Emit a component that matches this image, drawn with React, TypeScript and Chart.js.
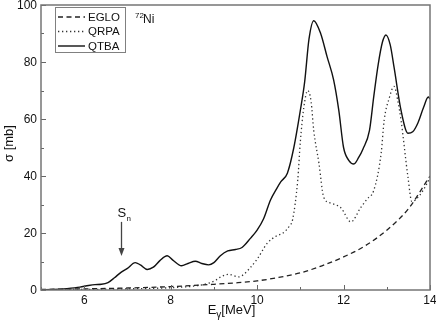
import React, { useEffect, useRef } from "react";
import { Chart, registerables } from "chart.js";
Chart.register(...registerables);

// ---- data ----
const egloE = [5.0, 6.0, 7.0, 8.0, 9.0, 9.5, 10.0, 10.5, 11.0, 11.5, 12.0, 12.5, 13.0, 13.5, 14.0];
const egloS = [0.2, 0.4, 0.7, 1.2, 2.0, 2.5, 3.2, 4.4, 6.0, 8.5, 11.6, 15.5, 21.0, 28.5, 40.0];

const qrpaE = [5.0, 6.0, 7.0, 8.0, 8.6, 8.9, 9.05, 9.15, 9.34, 9.57, 9.7, 9.85, 10.0, 10.24, 10.45, 10.6, 10.75, 10.82, 10.94, 11.0, 11.08, 11.17, 11.25, 11.31, 11.43, 11.54, 11.7, 11.94, 12.17, 12.4, 12.55, 12.7, 12.87, 12.94, 13.05, 13.17, 13.26, 13.33, 13.49, 13.58, 13.75, 13.9, 14.0];
const qrpaS = [0.1, 0.2, 0.4, 0.8, 1.5, 2.5, 3.5, 4.5, 5.5, 4.6, 5.6, 8.0, 10.8, 16.5, 19.0, 20.0, 22.5, 24.6, 38.6, 52.0, 64.0, 70.0, 66.0, 56.0, 44.5, 32.6, 30.5, 28.8, 23.9, 29.0, 32.0, 35.0, 48.0, 59.6, 67.0, 71.4, 66.0, 59.6, 39.6, 31.0, 33.0, 36.5, 39.5];

const qtbaE = [5.0, 5.3, 5.6, 5.9, 6.1, 6.25, 6.4, 6.55, 6.7, 6.85, 7.0, 7.18, 7.3, 7.46, 7.6, 7.75, 7.92, 8.05, 8.25, 8.4, 8.57, 8.72, 8.88, 9.0, 9.15, 9.32, 9.5, 9.65, 9.85, 10.0, 10.15, 10.31, 10.45, 10.55, 10.7, 10.85, 11.0, 11.1, 11.2, 11.31, 11.47, 11.62, 11.77, 11.89, 12.0, 12.12, 12.24, 12.35, 12.45, 12.6, 12.7, 12.8, 12.9, 12.98, 13.08, 13.17, 13.33, 13.49, 13.6, 13.72, 13.85, 13.96, 14.0];
const qtbaS = [0.1, 0.2, 0.5, 1.0, 1.6, 1.9, 2.0, 2.6, 4.3, 6.2, 7.6, 9.6, 8.8, 7.2, 8.0, 10.3, 12.0, 10.5, 8.5, 9.3, 10.1, 9.3, 8.8, 9.6, 12.0, 13.7, 14.2, 14.9, 18.2, 21.0, 25.0, 31.6, 35.5, 38.0, 41.0, 50.0, 63.0, 73.0, 88.0, 94.5, 90.0, 81.8, 73.7, 63.0, 50.0, 45.5, 44.2, 46.5, 49.5, 56.0, 68.0, 79.0, 87.0, 89.5, 86.0, 78.0, 63.0, 55.0, 55.5, 58.6, 64.0, 67.7, 67.0];

const seriesNames = ["EGLO", "QRPA", "QTBA"];
const xMajorTicks = [6, 8, 10, 12, 14];
const xMinorTicks = [5, 7, 9, 11, 13];
const yMajorTicks = [0, 20, 40, 60, 80, 100];
const yMinorTicks = [10, 30, 50, 70, 90];
const snEnergy = 6.86;
const snArrowTop = 23.9;
const snArrowTip = 11.9;

const FONT = '"Liberation Sans", Arial, Helvetica, sans-serif';
const dashes: number[][] = [[5, 3.5], [1.3, 2.7], []];
const colors = ["#222", "#333", "#111"];
const widths = [1.3, 1.3, 1.4];

const pts = (xs: number[], ys: number[]) => xs.map((x, i) => ({ x, y: ys[i] }));

const decorPlugin = {
  id: "decor",
  afterDraw(chart: any) {
    const ctx = chart.ctx as CanvasRenderingContext2D;
    const { left, right, top, bottom } = chart.chartArea;
    const xs = chart.scales.x;
    const ys = chart.scales.y;
    ctx.save();
    // ticks (inward)
    ctx.strokeStyle = "#666";
    ctx.lineWidth = 1;
    ctx.setLineDash([]);
    const tick = (x1: number, y1: number, x2: number, y2: number) => {
      ctx.beginPath();
      ctx.moveTo(x1, y1);
      ctx.lineTo(x2, y2);
      ctx.stroke();
    };
    xMajorTicks.forEach((v) => { const p = Math.round(xs.getPixelForValue(v)) + 0.5; tick(p, bottom, p, bottom - 5); });
    xMinorTicks.forEach((v) => { const p = Math.round(xs.getPixelForValue(v)) + 0.5; tick(p, bottom, p, bottom - 3); });
    yMajorTicks.forEach((v) => { const p = Math.round(ys.getPixelForValue(v)) + 0.5; tick(left, p, left + 5, p); });
    yMinorTicks.forEach((v) => { const p = Math.round(ys.getPixelForValue(v)) + 0.5; tick(left, p, left + 3, p); });
    // frame
    ctx.strokeStyle = "#757575";
    ctx.lineWidth = 1.5;
    ctx.strokeRect(left, top, right - left, bottom - top);
    // tick labels
    ctx.fillStyle = "#111";
    ctx.font = `12px ${FONT}`;
    ctx.textAlign = "center";
    ctx.textBaseline = "top";
    xMajorTicks.forEach((v) => ctx.fillText(String(v), xs.getPixelForValue(v), bottom + 5));
    ctx.textAlign = "right";
    ctx.textBaseline = "middle";
    yMajorTicks.forEach((v) => ctx.fillText(String(v), left - 4, ys.getPixelForValue(v) + 1));
    // x title  E_gamma [MeV]
    ctx.textBaseline = "alphabetic";
    ctx.textAlign = "left";
    const big = `13px ${FONT}`;
    const small = `10px ${FONT}`;
    ctx.font = big;
    const wE = ctx.measureText("E").width;
    const wM = ctx.measureText("[MeV]").width;
    ctx.font = small;
    const wG = ctx.measureText("γ").width;
    const total = wE + wG + wM;
    let tx = (left + right) / 2 - 4 - total / 2;
    const ty = bottom + 24;
    ctx.font = big;
    ctx.fillText("E", tx, ty);
    tx += wE;
    ctx.font = small;
    ctx.fillText("γ", tx, ty + 4);
    tx += wG;
    ctx.font = big;
    ctx.fillText("[MeV]", tx, ty);
    // y title
    ctx.save();
    ctx.translate(9, (top + bottom) / 2 - 4);
    ctx.rotate(-Math.PI / 2);
    ctx.textAlign = "center";
    ctx.textBaseline = "middle";
    ctx.font = big;
    ctx.fillText("σ [mb]", 0, 0);
    ctx.restore();
    // legend
    const lx = left + 14, ly = top + 2, lw = 70, lh = 45;
    ctx.strokeStyle = "#808080";
    ctx.lineWidth = 1;
    ctx.strokeRect(lx + 0.5, ly + 0.5, lw, lh);
    ctx.font = `11.5px ${FONT}`;
    ctx.textBaseline = "middle";
    ctx.textAlign = "left";
    seriesNames.forEach((name, i) => {
      const ry = ly + 10 + i * 14.5;
      ctx.strokeStyle = colors[i];
      ctx.lineWidth = widths[i];
      ctx.setLineDash(dashes[i]);
      ctx.beginPath();
      ctx.moveTo(lx + 3, ry);
      ctx.lineTo(lx + 30, ry);
      ctx.stroke();
      ctx.setLineDash([]);
      ctx.fillStyle = "#111";
      ctx.fillText(name, lx + 33, ry + 0.5);
    });
    // 72Ni label
    ctx.textBaseline = "alphabetic";
    ctx.fillStyle = "#111";
    ctx.font = `8px ${FONT}`;
    ctx.fillText("72", left + 94, top + 13);
    ctx.font = `12px ${FONT}`;
    ctx.fillText("Ni", left + 102, top + 18);
    // Sn arrow
    const ax = Math.round(xs.getPixelForValue(snEnergy)) + 0.5;
    const aTop = ys.getPixelForValue(snArrowTop);
    const aTip = ys.getPixelForValue(snArrowTip);
    ctx.strokeStyle = "#444";
    ctx.fillStyle = "#444";
    ctx.lineWidth = 1.3;
    ctx.beginPath();
    ctx.moveTo(ax, aTop);
    ctx.lineTo(ax, aTip - 6);
    ctx.stroke();
    ctx.beginPath();
    ctx.moveTo(ax - 3, aTip - 8);
    ctx.lineTo(ax + 3, aTip - 8);
    ctx.lineTo(ax, aTip);
    ctx.closePath();
    ctx.fill();
    ctx.fillStyle = "#111";
    ctx.font = `13px ${FONT}`;
    ctx.fillText("S", ax - 4, aTop - 5);
    ctx.font = `8px ${FONT}`;
    ctx.fillText("n", ax + 5, aTop - 1);
    ctx.restore();
  },
};

export default function App() {
  const ref = useRef<HTMLCanvasElement | null>(null);
  useEffect(() => {
    if (!ref.current) return;
    const sets = [pts(egloE, egloS), pts(qrpaE, qrpaS), pts(qtbaE, qtbaS)];
    const chart = new Chart(ref.current, {
      type: "line",
      data: {
        datasets: sets.map((d, i) => ({
          label: seriesNames[i],
          data: d,
          borderColor: colors[i],
          borderWidth: widths[i],
          borderDash: dashes[i],
          pointRadius: 0,
          fill: false,
          cubicInterpolationMode: "monotone" as const,
        })),
      },
      options: {
        responsive: false,
        animation: false,
        layout: { padding: { left: 41, right: 6, top: 5, bottom: 38 } },
        scales: {
          x: { type: "linear", min: 5, max: 14, display: false },
          y: { type: "linear", min: 0, max: 100, display: false },
        },
        plugins: { legend: { display: false }, tooltip: { enabled: false } },
      },
      plugins: [decorPlugin],
    });
    return () => chart.destroy();
  }, []);
  return (
    <div style={{ position: "absolute", left: 0, top: 0, width: 436, height: 328, background: "#fff" }}>
      <canvas ref={ref} width={436} height={328} style={{ display: "block" }} />
    </div>
  );
}
